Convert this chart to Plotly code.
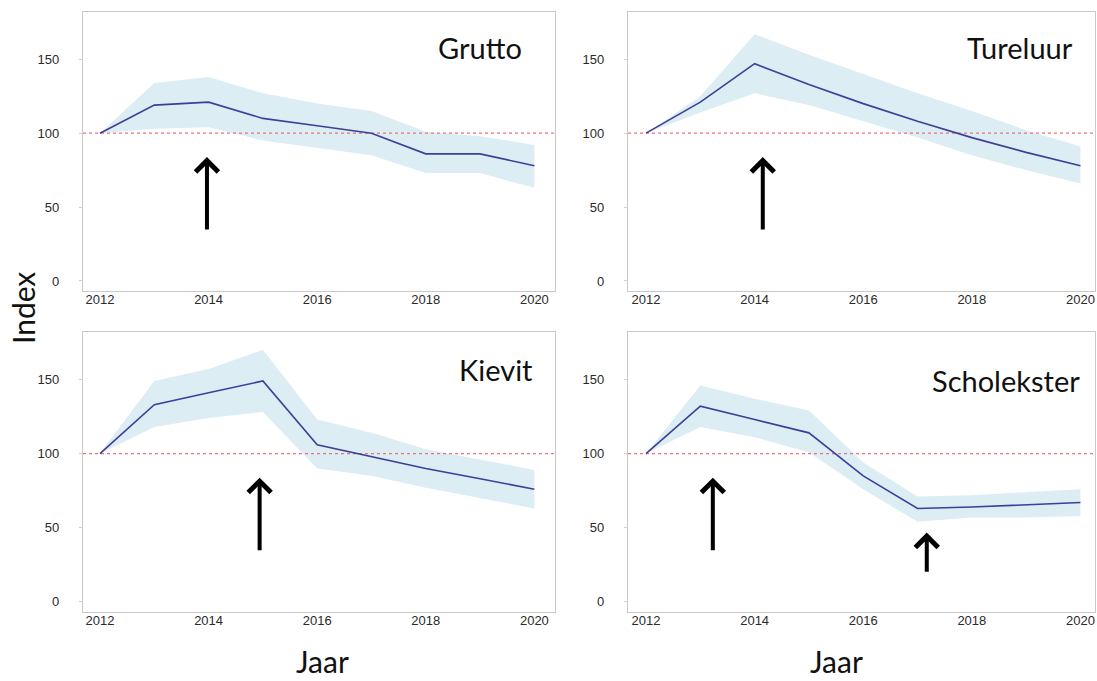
import plotly.graph_objects as go

# Meadow-bird population indices, 2012 = 100
years = [2012, 2013, 2014, 2015, 2016, 2017, 2018, 2019, 2020]

grutto_idx = [100, 119, 121, 110, 105, 100, 86, 86, 78]
grutto_hi = [100, 134, 138, 127, 120, 115, 101, 98, 92]
grutto_lo = [100, 103, 104, 95, 90, 85, 73, 73, 63]

tureluur_idx = [100, 121, 147, 133, 120, 108, 97, 87, 78]
tureluur_hi = [100, 125, 167, 153, 140, 127, 115, 102, 91]
tureluur_lo = [100, 114, 127, 119, 108, 97, 85, 75, 66]

kievit_idx = [100, 133, 141, 149, 106, 98, 90, 83, 76]
kievit_hi = [100, 149, 157, 170, 123, 114, 103, 96, 89]
kievit_lo = [100, 118, 124, 128, 90, 85, 77, 70, 63]

scholekster_idx = [100, 132, 123, 114, 85, 63, 64, 65.5, 67]
scholekster_hi = [100, 146, 137, 129, 94, 71, 72, 74, 76]
scholekster_lo = [100, 118, 111, 101, 76, 54, 57, 57, 58]

species = ["Grutto", "Tureluur", "Kievit", "Scholekster"]
series = [
    (grutto_idx, grutto_hi, grutto_lo),
    (tureluur_idx, tureluur_hi, tureluur_lo),
    (kievit_idx, kievit_hi, kievit_lo),
    (scholekster_idx, scholekster_hi, scholekster_lo),
]

# Arrows marking notable years: (panel, year, tail value, head value)
arrows = [
    (0, 2013.97, 33.8, 83.8),
    (1, 2014.15, 33.8, 83.8),
    (2, 2014.94, 33.8, 83.8),
    (3, 2013.23, 33.8, 83.8),
    (3, 2017.17, 19.4, 46.8),
]

W, H = 1097, 681
LINE = "#3d3f98"
BAND = "#dcedf4"
BOX = "#c9c9c9"
REF = "#f07078"
TICKFONT = dict(family="Liberation Sans, Arial, sans-serif", size=13, color="#2a2a2a")
LABELFONT = "Lato, Carlito, sans-serif"

# panel pixel boxes: (left, right, top, bottom, x-range)
panels = [
    (83, 555, 12, 291, [2011.687, 2020.38]),
    (628, 1095, 12, 291, [2011.668, 2020.268]),
    (83, 555, 332, 612, [2011.687, 2020.38]),
    (628, 1095, 332, 612, [2011.668, 2020.268]),
]

fig = go.Figure()
layout = dict(
    width=W, height=H,
    margin=dict(l=0, r=0, t=0, b=0),
    paper_bgcolor="white", plot_bgcolor="white",
    showlegend=False,
    shapes=[], annotations=[],
)

for i, ((idx, hi, lo), name, (l, r, t, b, xr)) in enumerate(zip(series, species, panels)):
    n = "" if i == 0 else str(i + 1)
    xa, ya = "x" + n, "y" + n
    layout["xaxis" + n] = dict(
        domain=[l / W, r / W], range=xr, anchor=ya,
        tickvals=[2012, 2014, 2016, 2018, 2020], ticks="",
        showgrid=False, zeroline=False,
        showline=True, mirror=True, linecolor=BOX, linewidth=1.2,
        tickfont=TICKFONT, ticklabelstandoff=-4,
    )
    layout["yaxis" + n] = dict(
        domain=[1 - b / H, 1 - t / H], range=[-6.8, 182], anchor=xa,
        tickvals=[0, 50, 100, 150], ticks="outside", ticklen=3, tickcolor="#d0d0d0",
        showgrid=False, zeroline=False,
        showline=True, mirror=True, linecolor=BOX, linewidth=1.2,
        tickfont=TICKFONT, ticklabelstandoff=17,
    )
    # confidence band
    fig.add_trace(go.Scatter(
        x=years + years[::-1], y=hi + lo[::-1], xaxis=xa, yaxis=ya,
        fill="toself", fillcolor=BAND, line=dict(width=0), mode="lines",
        hoverinfo="skip",
    ))
    # reference level 100
    fig.add_trace(go.Scatter(
        x=[xr[0], xr[1]], y=[100, 100], xaxis=xa, yaxis=ya, mode="lines",
        line=dict(color=REF, width=1.2, dash="dot"), hoverinfo="skip",
        cliponaxis=True,
    ))
    # index line
    fig.add_trace(go.Scatter(
        x=years, y=idx, xaxis=xa, yaxis=ya, mode="lines",
        line=dict(color=LINE, width=1.6), name=name,
    ))
    # species name
    title_y = {0: 158, 1: 158, 2: 157, 3: 149}[i]
    title_x = {0: 524, 1: 1075, 2: 535, 3: 1082}[i]
    layout["annotations"].append(dict(
        text=name, xref="paper", yref=ya, x=title_x / W, y=title_y,
        xanchor="right", yanchor="middle", showarrow=False,
        font=dict(family=LABELFONT, size=29, color="#111111"),
    ))

for p, yr, tail, head in arrows:
    n = "" if p == 0 else str(p + 1)
    xa, ya = "x" + n, "y" + n
    layout["annotations"].append(dict(
        x=yr, y=head, ax=yr, ay=tail, xref=xa, yref=ya, axref=xa, ayref=ya,
        text="", showarrow=True, arrowhead=4, arrowsize=1.1, arrowwidth=4,
        arrowcolor="black", standoff=0,
    ))

# shared axis titles
layout["annotations"].append(dict(
    text="Index", xref="paper", yref="paper", x=23 / W, y=1 - 308 / H,
    textangle=-90, showarrow=False, xanchor="center", yanchor="middle",
    font=dict(family=LABELFONT, size=30, color="#111111"),
))
for cx in (322, 836):
    layout["annotations"].append(dict(
        text="Jaar", xref="paper", yref="paper", x=cx / W, y=0,
        showarrow=False, xanchor="center", yanchor="bottom",
        font=dict(family=LABELFONT, size=30, color="#111111"),
    ))

fig.update_layout(**layout)
fig.write_html("out.html")
